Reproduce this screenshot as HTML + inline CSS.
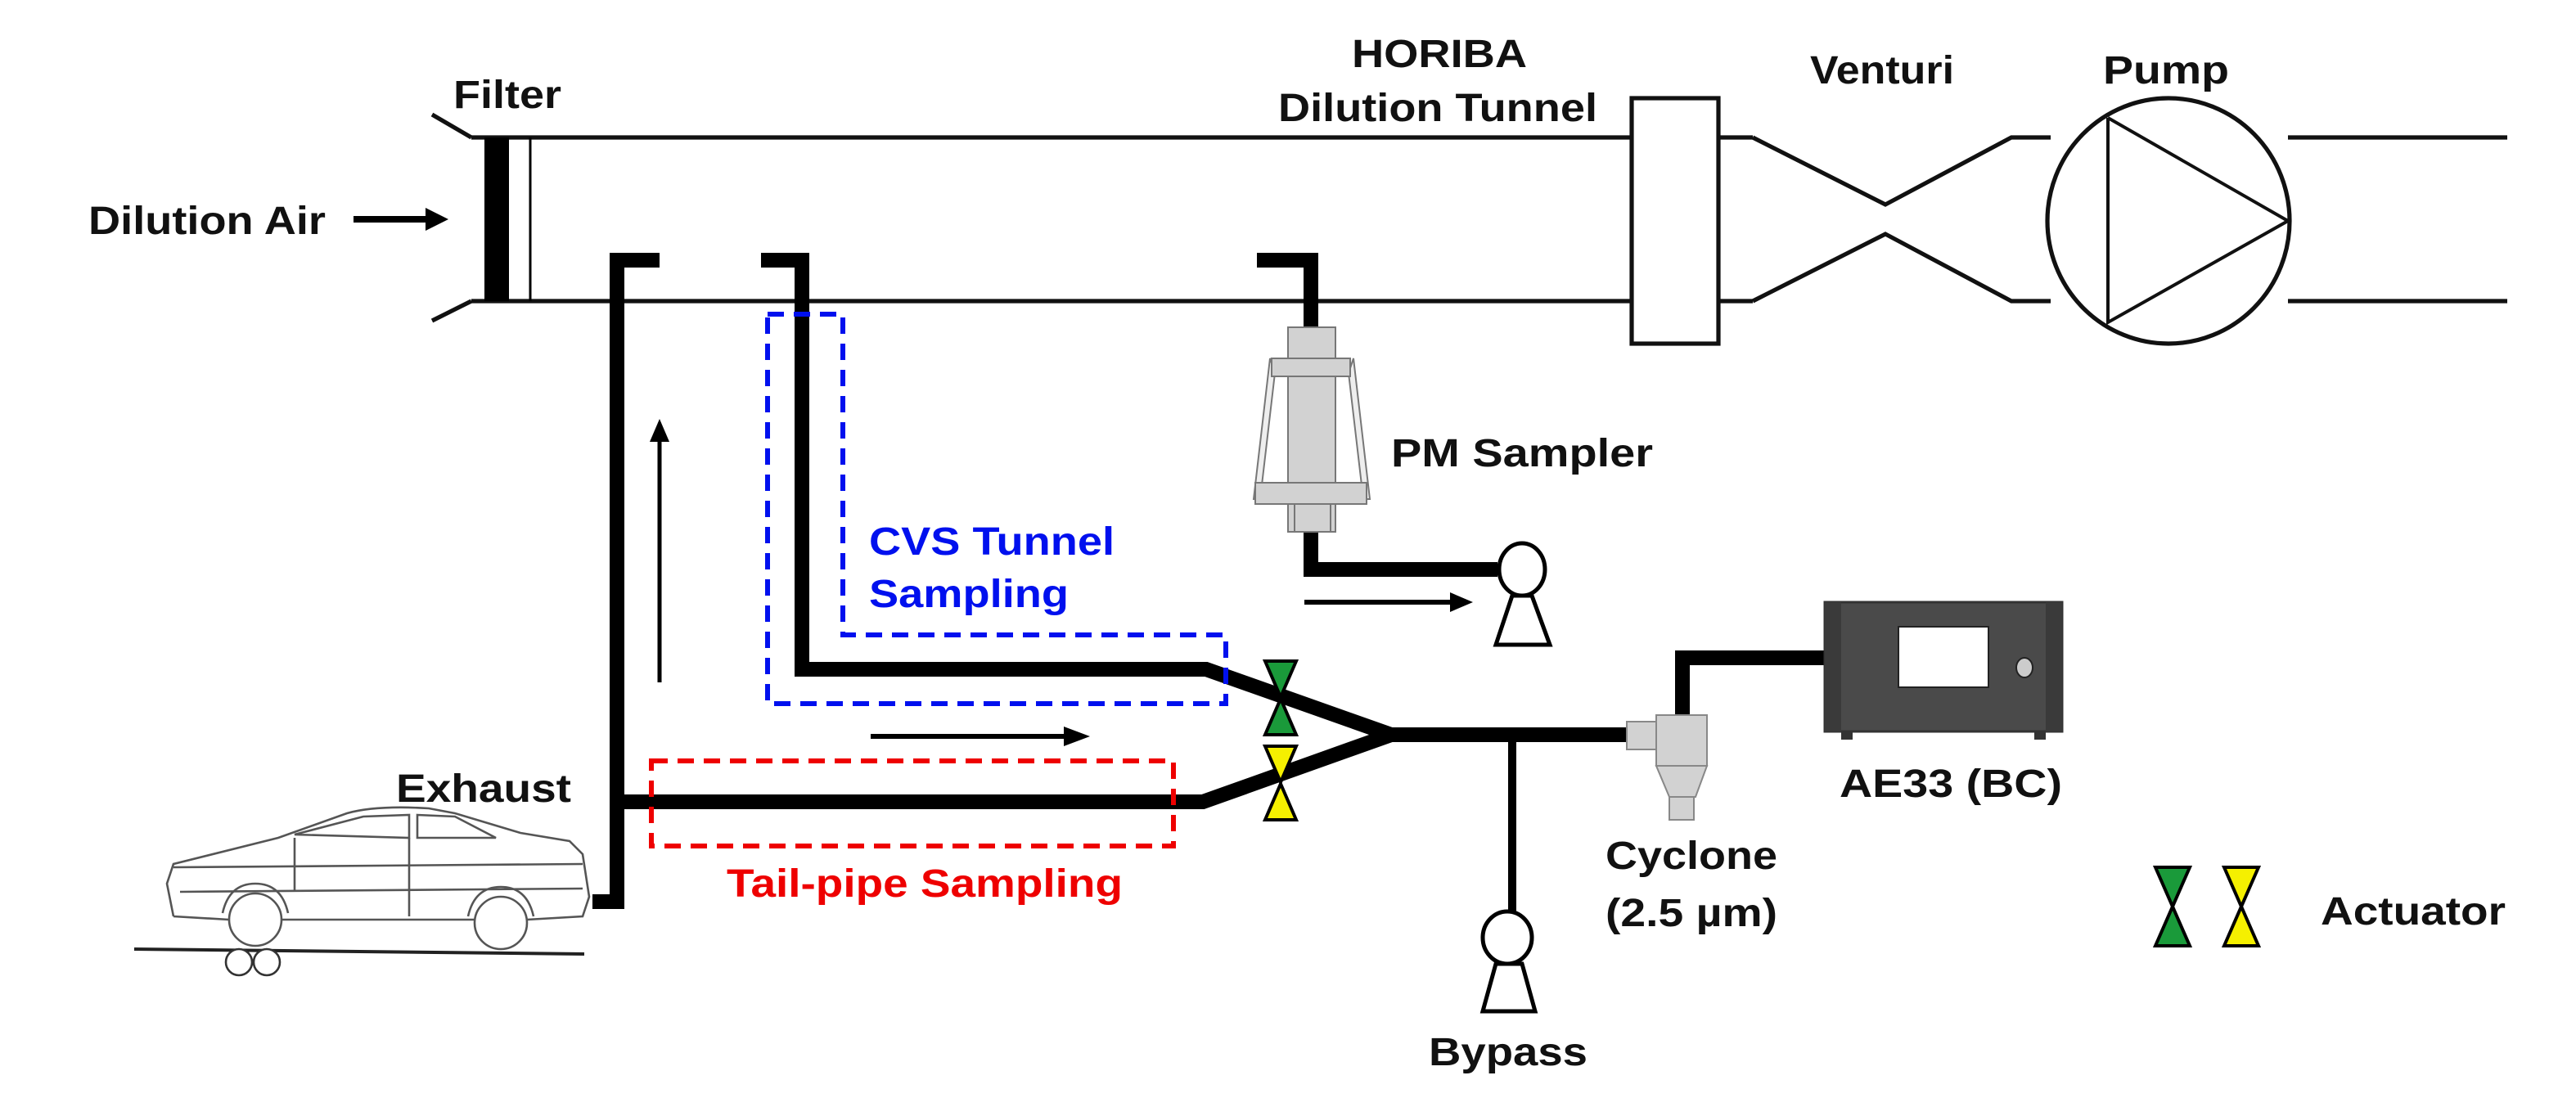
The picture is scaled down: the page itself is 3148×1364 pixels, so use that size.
<!DOCTYPE html>
<html><head><meta charset="utf-8"><style>
html,body{margin:0;padding:0;background:#fff;}
svg{display:block;}
text{font-family:"Liberation Sans",Arial,sans-serif;font-weight:bold;font-size:24px;}
</style></head><body>
<svg width="3148" height="1364" viewBox="0 0 1574 682" xmlns="http://www.w3.org/2000/svg">
<rect width="1574" height="682" fill="#fff"/>
<!-- tunnel -->
<g stroke="#111" stroke-width="2.6" fill="none">
<line x1="288" y1="84" x2="997" y2="84"/>
<line x1="288" y1="184" x2="997" y2="184"/>
<line x1="264" y1="70" x2="288" y2="84"/>
<line x1="264" y1="196" x2="288" y2="184"/>
<line x1="1050" y1="84" x2="1071" y2="84"/>
<line x1="1050" y1="184" x2="1071" y2="184"/>
<polyline points="1071,84 1152,125 1229,84 1253,84"/>
<polyline points="1071,184 1152,143 1229,184 1253,184"/>
<line x1="1398" y1="84" x2="1532" y2="84"/>
<line x1="1398" y1="184" x2="1532" y2="184"/>
<rect x="997" y="60" width="53" height="150" fill="#fff"/>
<ellipse cx="1325" cy="135" rx="74" ry="75" fill="#fff"/>
<polyline points="1288,72 1398,135 1288,197 1288,72" stroke-width="2"/>
</g>
<rect x="296" y="84" width="15" height="100" fill="#000"/>
<line x1="324" y1="84" x2="324" y2="184" stroke="#000" stroke-width="1.5"/>
<!-- dilution air arrow -->
<line x1="216" y1="134" x2="262" y2="134" stroke="#000" stroke-width="4"/>
<polygon points="260,127 274,134 260,141" fill="#000"/>
<!-- probes -->
<g stroke="#000" stroke-width="9" fill="none" stroke-linejoin="miter">
<polyline points="403,159 377,159 377,551 362,551"/>
<polyline points="465,159 490,159 490,409 737,409 850,449"/>
<polyline points="377,490 735,490 850,449 994,449"/>
<polyline points="768,159 801,159 801,205"/>
<polyline points="801,322 801,348 915,348"/>
<polyline points="1028,440 1028,402 1116,402"/>
</g>
<line x1="924" y1="449" x2="924" y2="558" stroke="#000" stroke-width="5"/>
<!-- arrows -->
<line x1="403" y1="417" x2="403" y2="268" stroke="#000" stroke-width="2.5"/>
<polygon points="397,270 403,256 409,270" fill="#000"/>
<line x1="532" y1="450" x2="652" y2="450" stroke="#000" stroke-width="3"/>
<polygon points="650,444 666,450 650,456" fill="#000"/>
<line x1="797" y1="368" x2="888" y2="368" stroke="#000" stroke-width="3"/>
<polygon points="886,362 900,368 886,374" fill="#000"/>
<!-- dashed boxes -->
<polygon points="469,192 515,192 515,388 749,388 749,430 469,430" fill="none" stroke="#0010ee" stroke-width="3" stroke-dasharray="10,6"/>
<rect x="398" y="465" width="319" height="52" fill="none" stroke="#ee0000" stroke-width="3" stroke-dasharray="10,6"/>
<!-- PM sampler -->
<g stroke="#777" stroke-width="1" fill="#d2d2d2">
<rect x="787" y="200" width="29" height="125"/>
<polygon points="776,219 766,305 770,305 779,228" fill="#eee"/>
<polygon points="827,219 837,305 833,305 824,228" fill="#eee"/>
<rect x="777" y="219" width="48" height="11"/>
<rect x="767" y="295" width="68" height="13"/>
<rect x="791" y="308" width="22" height="17"/>
</g>
<!-- pumps -->
<g stroke="#000" stroke-width="2.5" fill="#fff">
<ellipse cx="930" cy="348" rx="14" ry="16"/>
<polygon points="924,364 936,364 947,394 914,394"/>
<ellipse cx="921" cy="573" rx="15" ry="16"/>
<polygon points="914,589 930,589 938,618 906,618"/>
</g>
<!-- cyclone -->
<g stroke="#888" stroke-width="1" fill="#d2d2d2">
<rect x="994" y="441" width="18" height="17"/>
<rect x="1012" y="437" width="31" height="31"/>
<polygon points="1012,468 1043,468 1036,487 1020,487"/>
<rect x="1020" y="487" width="15" height="14"/>
</g>
<!-- AE33 -->
<rect x="1115" y="368" width="145" height="79" fill="#4a4a4a" stroke="#333" stroke-width="1.5"/>
<rect x="1115" y="368" width="10" height="79" fill="#3a3a3a"/>
<rect x="1250" y="368" width="10" height="79" fill="#3a3a3a"/>
<rect x="1160" y="383" width="55" height="37" fill="#fff" stroke="#222" stroke-width="1"/>
<ellipse cx="1237" cy="408" rx="5" ry="6" fill="#ccc" stroke="#222" stroke-width="1"/>
<rect x="1125" y="447" width="7" height="5" fill="#333"/>
<rect x="1243" y="447" width="7" height="5" fill="#333"/>
<!-- actuators -->
<g stroke="#000" stroke-width="2">
<polygon points="773,404 792,404 782.5,426" fill="#1a9a3a"/>
<polygon points="773,449 792,449 782.5,427" fill="#1a9a3a"/>
<polygon points="773,456 792,456 782.5,478" fill="#f5f000"/>
<polygon points="773,501 792,501 782.5,479" fill="#f5f000"/>
<polygon points="1317,530 1338,530 1327.5,554" fill="#1a9a3a"/>
<polygon points="1317,578 1338,578 1327.5,554" fill="#1a9a3a"/>
<polygon points="1359,530 1380,530 1369.5,554" fill="#f5f000"/>
<polygon points="1359,578 1380,578 1369.5,554" fill="#f5f000"/>
</g>
<!-- car -->
<g stroke="#555" stroke-width="1.3" fill="none">
<path d="M106,560 L102,540 L106,528 L170,512 L212,497 Q230,492 262,494 L278,497 L318,509 L348,514 L356,522 L360,548 L356,560 L322,562 M290,562 L172,562 M140,562 L106,560"/>
<path d="M180,510 L222,499 L250,498 L250,512 Z M255,498 L278,499 L303,512 L255,512 Z"/>
<line x1="106" y1="530" x2="356" y2="528"/>
<line x1="110" y1="545" x2="356" y2="543"/>
<line x1="250" y1="512" x2="250" y2="560"/>
<line x1="180" y1="512" x2="180" y2="545"/>
<circle cx="156" cy="562" r="16"/>
<circle cx="306" cy="564" r="16"/>
<path d="M136,558 Q140,540 156,540 Q172,540 176,558"/>
<path d="M286,560 Q290,542 306,542 Q322,542 326,560"/>
</g>
<line x1="82" y1="580" x2="357" y2="583" stroke="#222" stroke-width="2"/>
<circle cx="146" cy="588" r="8" fill="#fff" stroke="#333" stroke-width="1.3"/>
<circle cx="163" cy="588" r="8" fill="#fff" stroke="#333" stroke-width="1.3"/>
<!-- labels -->
<g fill="#111">
<text x="277" y="66" textLength="66" lengthAdjust="spacingAndGlyphs">Filter</text>
<text x="54" y="143" textLength="145" lengthAdjust="spacingAndGlyphs">Dilution Air</text>
<text x="826" y="41" textLength="107" lengthAdjust="spacingAndGlyphs">HORIBA</text>
<text x="781" y="74" textLength="195" lengthAdjust="spacingAndGlyphs">Dilution Tunnel</text>
<text x="1106" y="51" textLength="88" lengthAdjust="spacingAndGlyphs">Venturi</text>
<text x="1285" y="51" textLength="77" lengthAdjust="spacingAndGlyphs">Pump</text>
<text x="850" y="285" textLength="160" lengthAdjust="spacingAndGlyphs">PM Sampler</text>
<text x="242" y="490" textLength="107" lengthAdjust="spacingAndGlyphs">Exhaust</text>
<text x="873" y="651" textLength="97" lengthAdjust="spacingAndGlyphs">Bypass</text>
<text x="981" y="531" textLength="105" lengthAdjust="spacingAndGlyphs">Cyclone</text>
<text x="981" y="566" textLength="105" lengthAdjust="spacingAndGlyphs">(2.5 µm)</text>
<text x="1124" y="487" textLength="136" lengthAdjust="spacingAndGlyphs">AE33 (BC)</text>
<text x="1418" y="565" textLength="113" lengthAdjust="spacingAndGlyphs">Actuator</text>
</g>
<text x="531" y="339" fill="#0010ee" textLength="150" lengthAdjust="spacingAndGlyphs">CVS Tunnel</text>
<text x="531" y="371" fill="#0010ee" textLength="122" lengthAdjust="spacingAndGlyphs">Sampling</text>
<text x="444" y="548" fill="#ee0000" textLength="242" lengthAdjust="spacingAndGlyphs">Tail-pipe Sampling</text>
</svg>
</body></html>
